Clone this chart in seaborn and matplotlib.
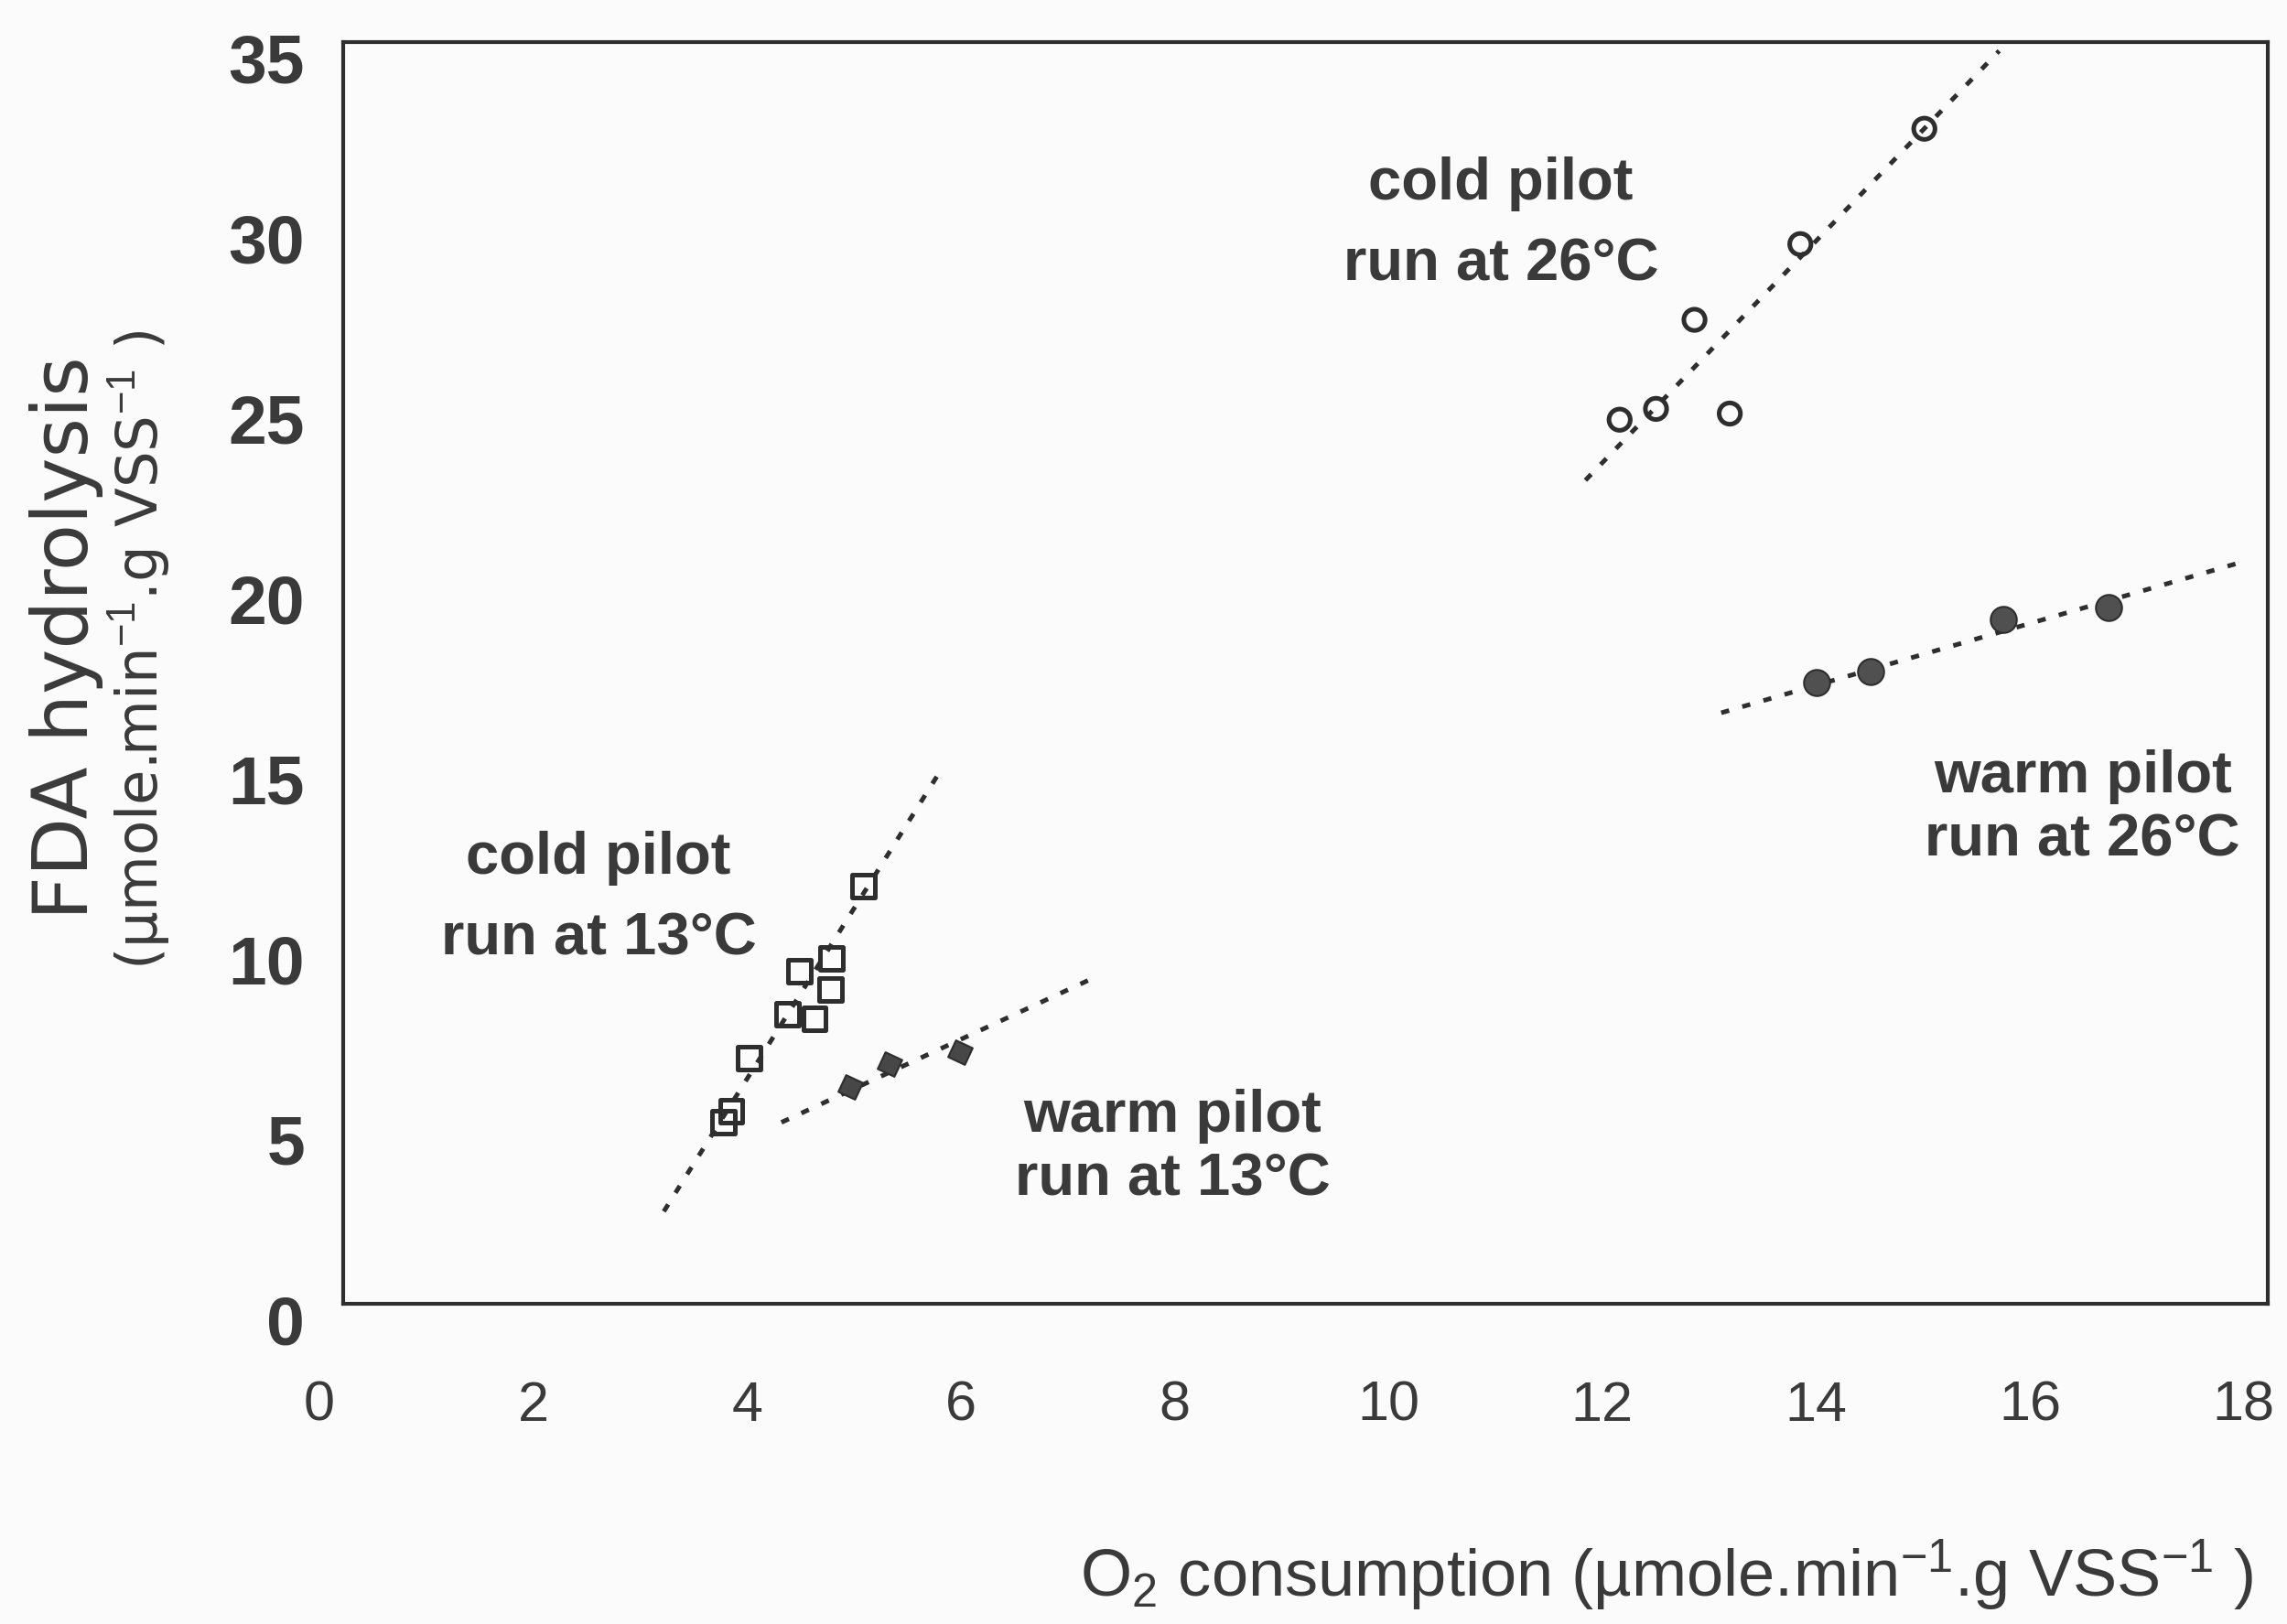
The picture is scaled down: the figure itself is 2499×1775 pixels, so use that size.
import matplotlib.pyplot as plt
import matplotlib.transforms as mtransforms
import seaborn as sns

# cold pilot run at 13 C (open squares)
cold13_x = [4.87, 4.57, 4.27, 4.56, 4.16, 4.41, 3.80, 3.63, 3.56]
cold13_y = [11.6, 9.58, 9.24, 8.73, 8.05, 7.92, 6.82, 5.34, 5.04]
# warm pilot run at 13 C (filled squares)
warm13_x = [4.74, 5.11, 5.77]
warm13_y = [6.02, 6.65, 6.99]
# cold pilot run at 26 C (open circles)
cold26_x = [14.79, 13.63, 12.64, 12.28, 11.94, 12.97]
cold26_y = [32.6, 29.4, 27.3, 24.83, 24.53, 24.70]
# warm pilot run at 26 C (filled circles)
warm26_x = [13.78, 14.29, 15.53, 16.51]
warm26_y = [17.24, 17.54, 18.98, 19.32]

# fitted lines, end points
cold13_fit_x = [3.00, 5.60]
cold13_fit_y = [2.57, 14.85]
warm13_fit_x = [4.10, 7.00]
warm13_fit_y = [5.04, 9.02]
cold26_fit_x = [11.62, 15.49]
cold26_fit_y = [22.85, 34.76]
warm26_fit_x = [12.89, 17.77]
warm26_fit_y = [16.40, 20.59]

x_ticks = [0, 2, 4, 6, 8, 10, 12, 14, 16, 18]
y_ticks = [0, 5, 10, 15, 20, 25, 30, 35]

ink = '#2e2e2e'
sns.set_style('white')
plt.rcParams['font.family'] = ['Liberation Sans', 'DejaVu Sans']
plt.rcParams['mathtext.fontset'] = 'custom'
plt.rcParams['mathtext.rm'] = 'Liberation Sans'
plt.rcParams['mathtext.it'] = 'Liberation Sans'

fig = plt.figure(figsize=(24.99, 17.75), dpi=100, facecolor='#fbfbfb')
ax = fig.add_axes([0.150, 0.197, 0.8415, 0.777])
ax.set_facecolor('#fbfbfb')

line_kw = dict(color=ink, linewidth=3.6, linestyle=(0, (1.8, 3.0)), legend=False)
sns.lineplot(x=cold13_fit_x, y=cold13_fit_y, ax=ax, **line_kw)
sns.lineplot(x=warm13_fit_x, y=warm13_fit_y, ax=ax, **line_kw)
sns.lineplot(x=cold26_fit_x, y=cold26_fit_y, ax=ax, **line_kw)
sns.lineplot(x=warm26_fit_x, y=warm26_fit_y, ax=ax, **line_kw)

sns.scatterplot(x=cold13_x, y=cold13_y, ax=ax, marker='s', s=320,
                facecolor='none', edgecolor=ink, linewidth=3.6, zorder=3)
sns.scatterplot(x=warm13_x, y=warm13_y, ax=ax, marker=(4, 0, 20), s=420,
                color='#474747', edgecolor=ink, linewidth=1.5, zorder=3)
sns.scatterplot(x=cold26_x, y=cold26_y, ax=ax, marker='o', s=280,
                facecolor='none', edgecolor=ink, linewidth=3.6, zorder=3)
sns.scatterplot(x=warm26_x, y=warm26_y, ax=ax, marker='o', s=420,
                color='#505050', edgecolor=ink, linewidth=1.5, zorder=3)

ann_kw = dict(fontsize=47, fontweight='bold', color='#3a3a3a', ha='center',
              va='center', clip_on=False)
ax.text(10.83, 29.94, 'cold pilot\nrun at 26°C', linespacing=1.6, **ann_kw)
ax.text(2.39, 11.24, 'cold pilot\nrun at 13°C', linespacing=1.6, **ann_kw)
ax.text(7.76, 4.34, 'warm pilot\nrun at 13°C', linespacing=1.2, **ann_kw)
ax.text(16.27, 13.74, 'warm pilot\nrun at 26°C', linespacing=1.2, **ann_kw)

ax.set_xlim(0, 18)
ax.set_ylim(0, 35)
ax.set_xticks(x_ticks)
ax.set_yticks(y_ticks)
ax.set_xticklabels([str(t) for t in x_ticks], fontsize=44)
ax.set_yticklabels([str(t) for t in y_ticks], fontweight='bold', fontsize=54)
ax.tick_params(axis='x', direction='in', length=14, width=2, color=ink,
               labelcolor='#3a3a3a', pad=60)
ax.tick_params(axis='y', direction='in', length=14, width=2, color=ink,
               labelcolor='#3a3a3a', pad=30)
for side in ['left', 'right', 'top', 'bottom']:
    ax.spines[side].set_visible(True)
    ax.spines[side].set_color(ink)
    ax.spines[side].set_linewidth(3)

# the scanned tick labels sit a little off their ticks
shift_x = mtransforms.ScaledTranslation(-0.26, 0, fig.dpi_scale_trans)
shift_y = mtransforms.ScaledTranslation(0, -0.17, fig.dpi_scale_trans)
for lab in ax.get_xticklabels():
    lab.set_transform(lab.get_transform() + shift_x)
for lab in ax.get_yticklabels():
    lab.set_transform(lab.get_transform() + shift_y)

fig.text(0.029, 0.607, 'FDA hydrolysis', rotation=90, ha='center', va='center',
         fontsize=60, color='#3a3a3a', fontfamily='DejaVu Sans')
fig.text(0.061, 0.600, '(µmole.min$^{-1}$.g VSS$^{-1}$ )', rotation=90,
         ha='center', va='center', fontsize=45, color='#3a3a3a',
         fontfamily='DejaVu Sans')
fig.text(0.9855, 0.030, 'O$_2$ consumption (µmole.min$^{-1}$.g VSS$^{-1}$ )',
         ha='right', va='center', fontsize=52, color='#3a3a3a')

plt.savefig('out.png', dpi=100, facecolor=fig.get_facecolor())
